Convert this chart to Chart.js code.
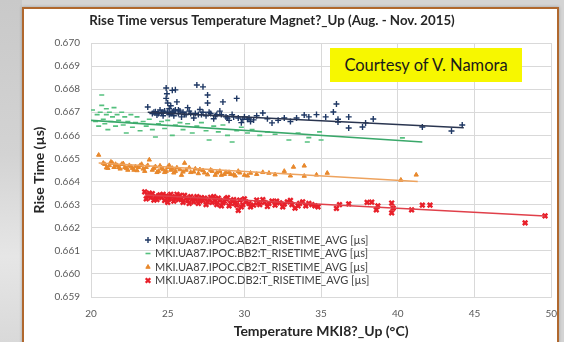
<!DOCTYPE html>
<html>
<head>
<meta charset="utf-8">
<script src="https://cdn.jsdelivr.net/npm/chart.js@4"></script>
<style>
  html, body { margin: 0; padding: 0; }
  body {
    width: 564px; height: 342px; overflow: hidden; position: relative;
    background: #d4d4d4;
    font-family: Lato, "Liberation Sans", sans-serif;
  }
  #strip {
    position: absolute; left: 0; top: 0; width: 22px; height: 342px;
    background: linear-gradient(to bottom, #c9c9c9 0%, #d3d3d3 45%, #e6e6e6 75%, #d9d9d9 100%);
  }
  #panel {
    position: absolute; left: 22px; top: 7px; width: 533px; height: 345px;
    background: #ffffff; border: 2px solid #b0682e;
    box-shadow: 0 0 3px rgba(0,0,0,0.25);
  }
  #box {
    position: absolute; left: 24px; top: 9px; width: 544px; height: 333px;
  }
  #courtesy {
    position: absolute; left: 330px; top: 48px; width: 192px; height: 34px;
    background: #f7f700; color: #1a1a1a;
    font-size: 16.5px; line-height: 34px; text-align: center;
  }
</style>
</head>
<body>
<div id="strip"></div>
<div id="panel"></div>
<div id="box"><canvas id="riseChart"></canvas></div>
<div id="courtesy">Courtesy of V. Namora</div>
<script>
// Rise time of the four MKI8 switches vs magnet temperature, Aug - Nov 2015
const chartTitle = 'Rise Time versus Temperature Magnet?_Up (Aug. - Nov. 2015)';
const seriesNames = [
    'MKI.UA87.IPOC.AB2:T_RISETIME_AVG [µs]',
    'MKI.UA87.IPOC.BB2:T_RISETIME_AVG [µs]',
    'MKI.UA87.IPOC.CB2:T_RISETIME_AVG [µs]',
    'MKI.UA87.IPOC.DB2:T_RISETIME_AVG [µs]'
];

// [temperature degC, rise time us]
const ab2Points = [
    [23.7,0.66723],[24.0,0.66695],[24.2,0.66702],[24.3,0.66688],[24.5,0.66710],[24.6,0.66697],
    [24.7,0.66685],[24.8,0.66705],[24.9,0.66760],[24.9,0.66805],[24.95,0.66780],[25.0,0.66740],
    [25.0,0.66700],[25.1,0.66690],[25.1,0.66715],[25.2,0.66728],[25.3,0.66795],[25.3,0.66700],
    [25.4,0.66685],[25.5,0.66797],[25.5,0.66710],[25.6,0.66745],[25.7,0.66695],[25.8,0.66705],
    [25.9,0.66680],[26.0,0.66700],[26.2,0.66690],[26.3,0.66720],[26.5,0.66695],[26.7,0.66675],
    [26.9,0.66818],[27.0,0.66690],[27.1,0.66712],[27.3,0.66810],[27.3,0.66700],[27.5,0.66685],
    [27.6,0.66775],[27.6,0.66740],[27.8,0.66695],[28.0,0.66672],[28.2,0.66690],[28.4,0.66705],
    [28.6,0.66745],[28.8,0.66680],[29.0,0.66665],[29.2,0.66690],[29.5,0.66760],[29.6,0.66675],
    [29.8,0.66655],[30.0,0.66680],[30.2,0.66670],[30.4,0.66660],[30.6,0.66667],[30.8,0.66685],
    [31.2,0.66697],[31.5,0.66672],[31.8,0.66654],[32.2,0.66665],[32.6,0.66675],[33.0,0.66660],
    [33.4,0.66675],[33.9,0.66688],[34.2,0.66680],[34.7,0.66690],[35.3,0.66680],[35.8,0.66701],
    [36.0,0.66736],[36.1,0.66658],[36.1,0.66670],[36.8,0.66680],[36.8,0.66632],[37.7,0.66636],
    [37.9,0.66654],[38.4,0.66671],[41.6,0.66636],[43.5,0.66619],[44.2,0.66645],
    [24.1,0.66700],[24.4,0.66695],[24.7,0.66700],[25.2,0.66695],[25.4,0.66705],[25.7,0.66710],
    [26.1,0.66690],[26.4,0.66705],[26.8,0.66695],[27.2,0.66690],[27.7,0.66700],[28.1,0.66685],
    [28.5,0.66690],[28.9,0.66675],[29.3,0.66680],[29.9,0.66670],[30.3,0.66675]
];
const bb2Points = [
    [20.1,0.66710],[20.3,0.66660],[20.4,0.66690],[20.5,0.66640],[20.6,0.66700],[20.7,0.66775],
    [20.7,0.66730],[20.8,0.66670],[20.9,0.66650],[21.0,0.66715],[21.0,0.66690],[21.1,0.66625],
    [21.2,0.66700],[21.3,0.66660],[21.4,0.66680],[21.5,0.66720],[21.6,0.66640],[21.7,0.66690],
    [21.8,0.66665],[22.0,0.66700],[22.1,0.66645],[22.2,0.66680],[22.3,0.66610],[22.4,0.66660],
    [22.6,0.66690],[22.7,0.66635],[22.9,0.66655],[23.0,0.66680],[23.2,0.66620],[23.4,0.66660],
    [23.6,0.66640],[23.8,0.66670],[24.0,0.66625],[24.2,0.66593],[24.4,0.66650],[24.6,0.66660],
    [24.8,0.66630],[25.0,0.66665],[25.3,0.66600],[25.5,0.66645],[25.8,0.66655],[26.0,0.66625],
    [26.3,0.66650],[26.6,0.66610],[26.9,0.66640],[27.2,0.66655],[27.5,0.66620],[27.7,0.66580],
    [28.0,0.66640],[28.3,0.66615],[28.6,0.66645],[28.9,0.66600],[29.2,0.66571],[29.5,0.66620],
    [29.8,0.66635],[30.2,0.66610],[30.5,0.66625],[31.0,0.66600],[31.5,0.66615],[32.0,0.66605],
    [32.9,0.66580],[33.5,0.66610],[34.1,0.66571],[34.2,0.66590],[34.9,0.66615],[35.0,0.66580],
    [40.3,0.66589]
];
const cb2Points = [
    [20.5,0.66515],[20.9,0.66475],[21.0,0.66460],[21.2,0.66470],[21.4,0.66480],[21.5,0.66462],
    [21.7,0.66470],[21.9,0.66455],[22.0,0.66475],[22.2,0.66462],[22.4,0.66450],[22.5,0.66470],
    [22.7,0.66458],[22.9,0.66465],[23.0,0.66448],[23.2,0.66470],[23.4,0.66455],[23.6,0.66462],
    [23.8,0.66494],[24.0,0.66450],[24.2,0.66465],[24.4,0.66445],[24.6,0.66458],[24.8,0.66440],
    [25.0,0.66462],[25.2,0.66450],[25.4,0.66438],[25.6,0.66460],[25.9,0.66428],[26.1,0.66480],
    [26.2,0.66450],[26.5,0.66440],[26.8,0.66455],[27.0,0.66435],[27.3,0.66448],[27.6,0.66430],
    [27.9,0.66445],[28.2,0.66438],[28.5,0.66428],[28.8,0.66440],[29.1,0.66432],[29.4,0.66425],
    [29.7,0.66438],[30.0,0.66428],[30.4,0.66437],[30.8,0.66432],[31.2,0.66440],[31.6,0.66437],
    [32.0,0.66430],[32.6,0.66445],[33.0,0.66425],[33.2,0.66463],[33.9,0.66468],[33.9,0.66424],
    [34.7,0.66429],[35.4,0.66437],[40.2,0.66407],[41.2,0.66429],
    [20.8,0.66480],[21.1,0.66458],[21.3,0.66485],[21.6,0.66475],[21.8,0.66462],[22.1,0.66478],
    [22.3,0.66458],[22.6,0.66465],[22.8,0.66450],[23.1,0.66462],[23.3,0.66475],[23.5,0.66445],
    [23.7,0.66470],[24.1,0.66458],[24.3,0.66440],[24.5,0.66468],[24.7,0.66452],[24.9,0.66445],
    [25.1,0.66470],[25.3,0.66458],[25.5,0.66445],[25.8,0.66452],[26.0,0.66442],[26.4,0.66460],
    [26.7,0.66442],[27.1,0.66452],[27.4,0.66438],[27.8,0.66450],[28.1,0.66428],[28.4,0.66445],
    [28.7,0.66432],[29.0,0.66440],[29.3,0.66430],[29.6,0.66445],[30.2,0.66425]
];
const db2Points = [
    [23.5,0.66355],[23.7,0.66340],[23.9,0.66330],[24.0,0.66348],[24.2,0.66335],[24.3,0.66322],
    [24.5,0.66342],[24.6,0.66330],[24.8,0.66318],[24.9,0.66338],[25.1,0.66325],[25.2,0.66345],
    [25.4,0.66315],[25.5,0.66332],[25.7,0.66322],[25.8,0.66340],[26.0,0.66310],[26.2,0.66328],
    [26.3,0.66318],[26.5,0.66335],[26.7,0.66312],[26.8,0.66325],[27.0,0.66305],[27.2,0.66330],
    [27.3,0.66318],[27.5,0.66300],[27.7,0.66322],[27.9,0.66310],[28.0,0.66335],[28.2,0.66300],
    [28.4,0.66318],[28.6,0.66308],[28.8,0.66325],[29.0,0.66295],[29.2,0.66315],[29.4,0.66305],
    [29.6,0.66275],[29.7,0.66320],[29.9,0.66300],[30.1,0.66312],[30.4,0.66290],[30.8,0.66320],
    [31.0,0.66300],[31.3,0.66310],[31.5,0.66292],[31.8,0.66315],[32.0,0.66298],[32.3,0.66308],
    [32.5,0.66290],[32.8,0.66312],[33.1,0.66300],[33.3,0.66285],[33.6,0.66305],[34.0,0.66295],
    [34.4,0.66300],[34.8,0.66290],[36.0,0.66284],[36.2,0.66300],[36.8,0.66303],[38.0,0.66310],
    [38.3,0.66311],[38.6,0.66277],[38.7,0.66295],[39.6,0.66307],[39.6,0.66264],[39.7,0.66285],
    [40.9,0.66277],[41.6,0.66298],[42.1,0.66298],[48.3,0.66221],[49.6,0.66251],
    [23.6,0.66325],[23.8,0.66350],[24.1,0.66320],[24.4,0.66338],[24.7,0.66345],[25.0,0.66310],
    [25.3,0.66335],[25.6,0.66345],[25.9,0.66325],[26.1,0.66340],[26.4,0.66305],[26.6,0.66325],
    [26.9,0.66335],[27.1,0.66315],[27.4,0.66328],[27.6,0.66312],[27.8,0.66332],[28.1,0.66318],
    [28.3,0.66328],[28.5,0.66295],[28.7,0.66315],[28.9,0.66330],[29.1,0.66305],[29.3,0.66322],
    [29.5,0.66298],[29.8,0.66290],[30.0,0.66325],[30.3,0.66305],[30.6,0.66298],[30.9,0.66308],
    [31.2,0.66322],[31.6,0.66305],[32.1,0.66315],[32.6,0.66302],[33.0,0.66318],[33.5,0.66295],
    [33.8,0.66312],[34.2,0.66305],[34.6,0.66295]
];

// linear trend lines (start / end of each fit)
const ab2Fit = [[23.7,0.66700],[44.3,0.66633]];
const bb2Fit = [[20.0,0.66665],[41.6,0.66571]];
const cb2Fit = [[20.5,0.66480],[41.3,0.66400]];
const db2Fit = [[23.5,0.66342],[49.6,0.66251]];

const xTicks = [20, 25, 30, 35, 40, 45, 50];
const yTicks = [0.659, 0.660, 0.661, 0.662, 0.663, 0.664, 0.665, 0.666, 0.667, 0.668, 0.669, 0.670];

const colors = ['#1f3864', '#55c07e', '#e8882c', '#e8202a'];
const fitColors = ['#2a3550', '#3aa86a', '#eea35e', '#e0404a'];
const markers = [
    { pointStyle: 'cross', radius: 3, borderWidth: 1.4 },
    { pointStyle: 'line', radius: 2.5, borderWidth: 1.6 },
    { pointStyle: 'triangle', radius: 2.5, borderWidth: 1 },
    { pointStyle: 'crossRot', radius: 3.2, borderWidth: 2.4 }
];

const toXY = pts => pts.map(p => ({ x: p[0], y: p[1] }));

const allPoints = [ab2Points, bb2Points, cb2Points, db2Points];
const allFits = [ab2Fit, bb2Fit, cb2Fit, db2Fit];

let datasets = [];
allFits.forEach((fit, i) => {
    datasets.push({
        type: 'line',
        label: 'fit' + i,
        data: toXY(fit),
        borderColor: fitColors[i],
        borderWidth: 1.6,
        pointRadius: 0,
        fill: false,
        order: 0
    });
});
allPoints.forEach((pts, i) => {
    datasets.push({
        type: 'scatter',
        label: seriesNames[i],
        data: toXY(pts),
        pointStyle: markers[i].pointStyle,
        pointRadius: markers[i].radius,
        pointBorderWidth: markers[i].borderWidth,
        borderColor: colors[i],
        backgroundColor: colors[i],
        order: 1
    });
});

// title (offset to the left of centre) and legend inside the plot
const overlay = {
    id: 'overlay',
    afterDraw(chart) {
        const ctx = chart.ctx;
        const area = chart.chartArea;
        ctx.save();
        ctx.font = 'bold 13.3px Lato, "Liberation Sans", sans-serif';
        ctx.fillStyle = '#262626';
        ctx.textAlign = 'center';
        ctx.textBaseline = 'middle';
        ctx.fillText(chartTitle, 248, 12);

        const x0 = area.left + 57;
        const y0 = area.top + 197;
        ctx.font = '11px Lato, "Liberation Sans", sans-serif';
        ctx.textAlign = 'left';
        seriesNames.forEach((name, i) => {
            const y = y0 + i * 13.5;
            ctx.strokeStyle = colors[i];
            ctx.fillStyle = colors[i];
            ctx.lineWidth = markers[i].borderWidth;
            Chart.helpers.drawPoint(ctx, {
                pointStyle: markers[i].pointStyle,
                radius: markers[i].radius,
                borderWidth: markers[i].borderWidth,
                rotation: 0
            }, x0, y);
            ctx.fillStyle = '#404040';
            ctx.fillText(name, x0 + 7, y);
        });
        ctx.restore();
    }
};

const chart = new Chart(document.getElementById('riseChart'), {
    type: 'scatter',
    data: { datasets: datasets },
    options: {
        responsive: true,
        maintainAspectRatio: false,
        animation: false,
        layout: { padding: { left: 0, right: 3, top: 34, bottom: 0 } },
        plugins: {
            legend: { display: false },
            tooltip: { enabled: false },
            title: { display: false }
        },
        scales: {
            x: {
                type: 'linear',
                min: 20,
                max: 50,
                afterBuildTicks: axis => { axis.ticks = xTicks.map(v => ({ value: v })); },
                afterFit: axis => { axis.height = 45; },
                ticks: { color: '#595959', font: { family: 'Lato', size: 10 }, padding: 11 },
                grid: { color: '#d9d9d9', drawTicks: false },
                border: { color: '#d9d9d9' },
                title: {
                    display: true,
                    text: 'Temperature MKI8?_Up (°C)',
                    color: '#262626',
                    font: { family: 'Lato', size: 14, weight: 'bold' },
                    padding: { top: 0, bottom: 2 }
                }
            },
            y: {
                type: 'linear',
                min: 0.659,
                max: 0.670,
                afterBuildTicks: axis => { axis.ticks = yTicks.map(v => ({ value: v })); },
                afterFit: axis => { axis.width = 67; },
                ticks: {
                    color: '#595959',
                    font: { family: 'Lato', size: 10 },
                    padding: 11,
                    callback: v => v.toFixed(3)
                },
                grid: { color: '#d9d9d9', drawTicks: false },
                border: { color: '#d9d9d9' },
                title: {
                    display: true,
                    text: 'Rise Time (µs)',
                    color: '#262626',
                    font: { family: 'Lato', size: 14, weight: 'bold' },
                    padding: { top: 7, bottom: 0 }
                }
            }
        }
    },
    plugins: [overlay]
});
</script>
</body>
</html>
